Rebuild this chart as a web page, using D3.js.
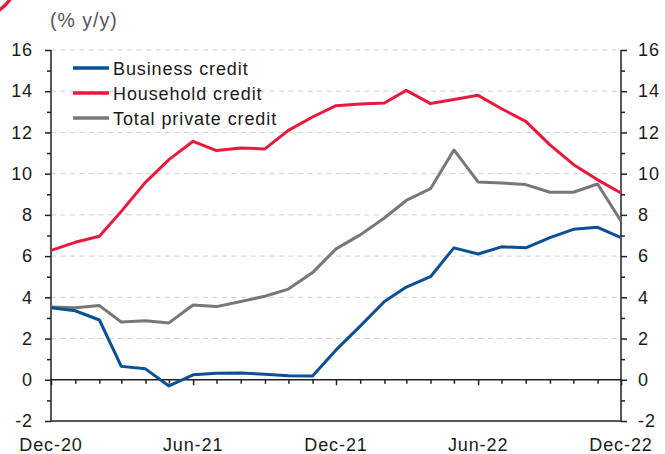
<!DOCTYPE html>
<html>
<head>
<meta charset="utf-8">
<script src="https://cdn.jsdelivr.net/npm/d3@7"></script>
<style>
  body { margin: 0; background: #fff; }
  svg { display: block; font-family: "Liberation Sans", Arial, sans-serif; }
</style>
</head>
<body>
<div id="chart"></div>
<script>
// monthly observations, Dec-20 .. Dec-22
const months = ["2020-12","2021-01","2021-02","2021-03","2021-04","2021-05","2021-06",
  "2021-07","2021-08","2021-09","2021-10","2021-11","2021-12","2022-01","2022-02",
  "2022-03","2022-04","2022-05","2022-06","2022-07","2022-08","2022-09","2022-10",
  "2022-11","2022-12"];

const businessCredit = [3.5, 3.35, 2.9, 0.65, 0.53, -0.3, 0.24, 0.32, 0.33, 0.27, 0.2, 0.18,
  1.45, 2.6, 3.8, 4.5, 5.0, 6.4, 6.1, 6.45, 6.4, 6.9, 7.3, 7.4, 6.9];

const householdCredit = [6.28, 6.67, 6.96, 8.17, 9.58, 10.68, 11.57, 11.12, 11.25, 11.2, 12.1, 12.75,
  13.3, 13.38, 13.43, 14.04, 13.4, 13.6, 13.8, 13.15, 12.54, 11.4, 10.45, 9.7, 9.06];

const totalCredit = [3.53, 3.5, 3.6, 2.8, 2.86, 2.76, 3.63, 3.55, 3.8, 4.05, 4.4, 5.2,
  6.35, 7.03, 7.85, 8.7, 9.27, 11.15, 9.6, 9.55, 9.47, 9.1, 9.1, 9.5, 7.7];

const seriesNames = ["Business credit", "Household credit", "Total private credit"];
const seriesColors = ["#0b4f97", "#e8193c", "#777777"];

const yTicks = [-2, 0, 2, 4, 6, 8, 10, 12, 14, 16];
const xTickLabels = ["Dec-20", "Jun-21", "Dec-21", "Jun-22", "Dec-22"];
const yLabel = "(% y/y)";

const config = {
  width: 665, height: 454,
  margin: { top: 50, right: 44, bottom: 33, left: 51 }
};

const parseMonth = d3.timeParse("%Y-%m");
const dates = months.map(parseMonth);
const series = [businessCredit, householdCredit, totalCredit].map((vals, i) => ({
  name: seriesNames[i],
  color: seriesColors[i],
  values: vals.map((v, j) => ({ date: dates[j], value: v }))
}));

const w = config.width - config.margin.left - config.margin.right;
const h = config.height - config.margin.top - config.margin.bottom;

const svg = d3.select("#chart").append("svg")
  .attr("width", config.width)
  .attr("height", config.height);

// small logo fragment at the top-left corner
svg.append("path")
  .attr("d", "M-2,11 Q6,6 11,-2")
  .attr("fill", "none")
  .attr("stroke", "#e8193c")
  .attr("stroke-width", 3.5);

const g = svg.append("g")
  .attr("transform", `translate(${config.margin.left},${config.margin.top})`);

const x = d3.scaleTime()
  .domain(d3.extent(dates))
  .range([0, w]);

const y = d3.scaleLinear()
  .domain([-2, 16])
  .range([h, 0]);

const textColor = "#1a1a1a";
const axisColor = "#222";

// dashed gridlines
g.append("g").selectAll("line")
  .data(yTicks.filter(d => d > 0))
  .join("line")
  .attr("x1", 0).attr("x2", w)
  .attr("y1", d => y(d)).attr("y2", d => y(d))
  .attr("stroke", "#cfcfcf")
  .attr("stroke-width", 1)
  .attr("stroke-dasharray", "5,4.5");

// left & right axes, minor tick at every unit, labels on even values
const minorTicks = d3.range(-2, 17, 1);
const leftAxis = d3.axisLeft(y)
  .tickValues(minorTicks)
  .tickSize(6)
  .tickPadding(12)
  .tickFormat(d => d % 2 === 0 ? d : "");
const gl = g.append("g").call(leftAxis);

const rightAxis = d3.axisRight(y)
  .tickValues(minorTicks)
  .tickSize(6)
  .tickPadding(11)
  .tickFormat(d => d % 2 === 0 ? d : "");
const gr = g.append("g").attr("transform", `translate(${w},0)`).call(rightAxis);

[gl, gr].forEach(ax => {
  ax.select(".domain").attr("stroke", axisColor).attr("stroke-width", 1.5)
    .attr("d", `M0,0V${h}`);
  ax.selectAll(".tick line").attr("stroke", axisColor).attr("stroke-width", 1.5)
    .attr("x2", d => (d % 2 === 0 ? 6 : 4) * (ax === gl ? -1 : 1));
  ax.selectAll(".tick text")
    .attr("fill", textColor)
    .attr("font-size", 18)
    .attr("letter-spacing", "0.9px");
});

// bottom frame line
g.append("line")
  .attr("x1", 0).attr("x2", w)
  .attr("y1", h).attr("y2", h)
  .attr("stroke", axisColor).attr("stroke-width", 1.5);

// zero line with monthly ticks
const zeroAxis = d3.axisBottom(x)
  .tickValues(dates)
  .tickSize(4)
  .tickFormat("");
const gz = g.append("g").attr("transform", `translate(0,${y(0)})`).call(zeroAxis);
gz.select(".domain").attr("stroke", axisColor).attr("stroke-width", 1.5).attr("d", `M0,0H${w}`);
gz.selectAll(".tick line").attr("stroke", axisColor).attr("stroke-width", 1.5)
  .attr("y2", d => d.getMonth() % 6 === 5 ? 5.5 : 4);

// x labels under the frame, every six months
g.append("g").selectAll("text")
  .data(dates.filter(d => d.getMonth() === 5 || d.getMonth() === 11))
  .join("text")
  .attr("x", d => x(d))
  .attr("y", h + 30)
  .attr("text-anchor", "middle")
  .attr("fill", textColor)
  .attr("font-size", 18)
  .attr("letter-spacing", "0.9px")
  .text((d, i) => xTickLabels[i]);

// lines
const line = d3.line()
  .x(d => x(d.date))
  .y(d => y(d.value));

g.append("g").selectAll("path")
  .data(series.slice().reverse())
  .join("path")
  .attr("fill", "none")
  .attr("stroke", d => d.color)
  .attr("stroke-width", 3)
  .attr("stroke-linejoin", "round")
  .attr("d", d => line(d.values));

// axis unit label
svg.append("text")
  .attr("x", 50)
  .attr("y", 27)
  .attr("fill", "#555")
  .attr("font-size", 19.5)
  .attr("letter-spacing", "1px")
  .text(yLabel);

// legend
const legend = svg.append("g").attr("transform", "translate(73,68)");
const item = legend.selectAll("g")
  .data(series)
  .join("g")
  .attr("transform", (d, i) => `translate(0,${i * 25})`);
item.append("line")
  .attr("x1", 0).attr("x2", 36)
  .attr("stroke", d => d.color)
  .attr("stroke-width", 3.5);
item.append("text")
  .attr("x", 40)
  .attr("y", 6.5)
  .attr("fill", textColor)
  .attr("font-size", 18)
  .attr("letter-spacing", "0.9px")
  .text(d => d.name);
</script>
</body>
</html>
